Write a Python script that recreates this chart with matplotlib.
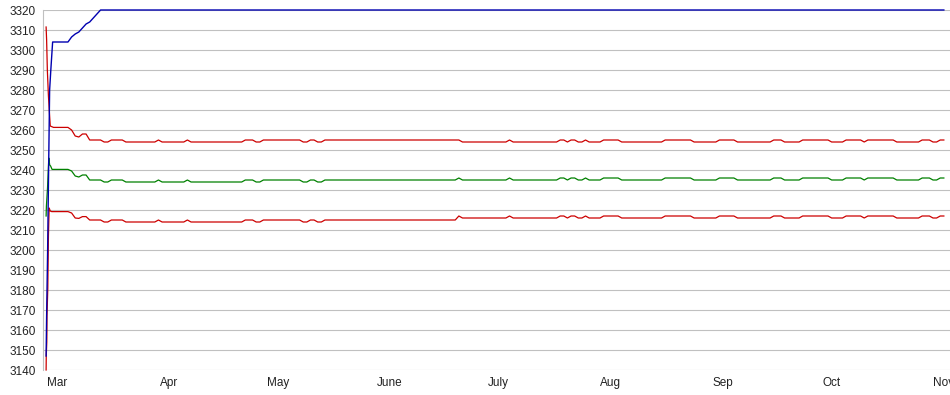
import numpy as np
import pandas as pd
import matplotlib
matplotlib.use('Agg')
import matplotlib.pyplot as plt
import matplotlib.dates as mdates
from matplotlib.ticker import FixedLocator, FixedFormatter

plt.rcParams['font.family'] = ['Liberation Sans', 'DejaVu Sans']

start = pd.Timestamp('2010-03-01')

# x values are day offsets from 1 March (first few days are sub-daily samples)
blue_days = [-3.04, -2.9, -2.62, -2.35, -2.07, -1.74, -1.24, 3, 4, 5, 6, 7, 8, 9, 10, 11, 12, 245]
blue_vals = [3147, 3167, 3200, 3240, 3280, 3290, 3304, 3304, 3306.5, 3308, 3309, 3311, 3313, 3314, 3316, 3318, 3320, 3320]

upper_early_days = [-3.04, -2.9, -2.7, -2.4, -2.1, -1.9, -1.0, 3, 4, 5, 6, 7, 8]
upper_early_vals = [3311.5, 3305, 3290, 3277, 3268, 3262, 3261.3, 3261.3, 3260, 3257, 3256.5, 3258, 3258]

mean_early_days = [-3.04, -2.96, -2.65, -2.3, -2.05, -1.8, -1.4, 3, 4, 5, 6, 7, 8]
mean_early_vals = [3217, 3222, 3231, 3246, 3242.5, 3242, 3240.3, 3240.3, 3239.5, 3237, 3236.5, 3237.5, 3237.5]

lower_early_days = [-3.04, -3.0, -2.85, -2.8, -2.57, -2.4, -2.2, -1.9, -1.5, 3, 4, 5, 6, 7, 8]
lower_early_vals = [3140, 3147, 3154, 3167, 3181, 3207, 3221, 3219.5, 3219.2, 3219.2, 3218.5, 3216, 3215.8, 3216.7, 3216.7]

# flat stretches after the first week: first day, last day, level of each series
seg_start = [9, 13, 15, 19, 28, 29, 36, 37, 52, 55, 57, 68, 70, 72, 74, 111,
             112, 125, 126, 139, 141, 142, 144, 146, 147, 151, 156, 168, 176,
             183, 188, 198, 201, 206, 214, 218, 223, 224, 232, 239, 242, 244]
seg_end = [12, 14, 18, 27, 28, 35, 36, 51, 54, 56, 67, 69, 71, 73, 110, 111,
           124, 125, 138, 140, 141, 143, 145, 146, 150, 155, 167, 175, 182,
           187, 197, 200, 205, 213, 217, 222, 223, 231, 238, 241, 243, 245]
upper_seg = [3255, 3254, 3255, 3254, 3255, 3254, 3255, 3254, 3255, 3254, 3255, 3254, 3255, 3254, 3255, 3255,
             3254, 3255, 3254, 3255, 3254, 3255, 3254, 3255, 3254, 3255, 3254, 3255, 3254,
             3255, 3254, 3255, 3254, 3255, 3254, 3255, 3254, 3255, 3254, 3255, 3254, 3255]
mean_seg = [3235, 3234, 3235, 3234, 3235, 3234, 3235, 3234, 3235, 3234, 3235, 3234, 3235, 3234, 3235, 3236,
            3235, 3236, 3235, 3236, 3235, 3236, 3235, 3236, 3235, 3236, 3235, 3236, 3235,
            3236, 3235, 3236, 3235, 3236, 3235, 3236, 3235, 3236, 3235, 3236, 3235, 3236]
lower_seg = [3215, 3214, 3215, 3214, 3215, 3214, 3215, 3214, 3215, 3214, 3215, 3214, 3215, 3214, 3215, 3217,
             3216, 3217, 3216, 3217, 3216, 3217, 3216, 3217, 3216, 3217, 3216, 3217, 3216,
             3217, 3216, 3217, 3216, 3217, 3216, 3217, 3216, 3217, 3216, 3217, 3216, 3217]

month_labels = ['Mar', 'Apr', 'May', 'June', 'July', 'Aug', 'Sep', 'Oct', 'Nov']

seg_days = np.column_stack([seg_start, seg_end]).ravel()


def build(early_days, early_vals, seg_vals):
    days = np.concatenate([early_days, seg_days])
    vals = np.concatenate([early_vals, np.repeat(seg_vals, 2)])
    return start + pd.to_timedelta(days, unit='D'), vals


fig = plt.figure(figsize=(9.5, 3.95), dpi=100)
ax = fig.add_axes([43 / 950, 25 / 395, 907 / 950, 360 / 395])

x, y = build(upper_early_days, upper_early_vals, upper_seg)
ax.plot(x, y, color='#cc0000', lw=0.9, clip_on=False)
x, y = build(lower_early_days, lower_early_vals, lower_seg)
ax.plot(x, y, color='#cc0000', lw=0.9, clip_on=False)
x, y = build(mean_early_days, mean_early_vals, mean_seg)
ax.plot(x, y, color='#008000', lw=0.9, clip_on=False)
ax.plot(start + pd.to_timedelta(blue_days, unit='D'), blue_vals,
        color='#0000b0', lw=1.0, clip_on=False)

ax.set_ylim(3140, 3320)
ax.set_yticks(range(3140, 3321, 10))
ax.set_xlim(start - pd.Timedelta(days=3.9), start + pd.Timedelta(days=246.7))

month_starts = pd.date_range('2010-03-01', '2010-11-01', freq='MS')
ax.xaxis.set_major_locator(FixedLocator(mdates.date2num(month_starts)))
ax.xaxis.set_major_formatter(FixedFormatter(month_labels))

ax.grid(axis='y', color='#c0c0c0', lw=0.8)
ax.set_axisbelow(True)
for side in ['top', 'right', 'bottom']:
    ax.spines[side].set_visible(False)
ax.spines['left'].set_color('#c0c0c0')
ax.spines['left'].set_linewidth(0.8)
ax.tick_params(length=0, labelsize=8.5, colors='#222222')
ax.tick_params(axis='y', pad=5)
ax.tick_params(axis='x', pad=5)

fig.savefig('out.png', dpi=100)
